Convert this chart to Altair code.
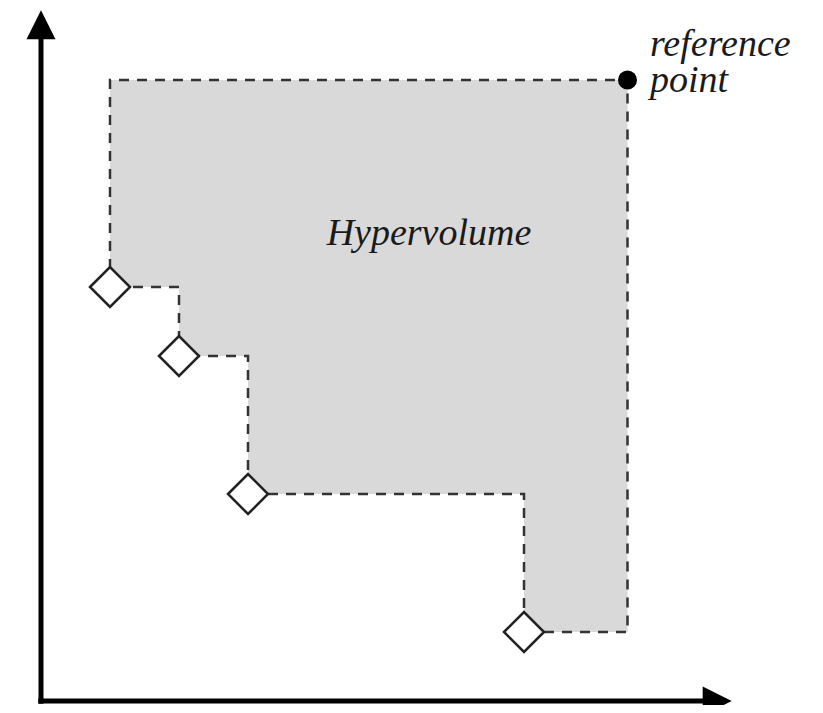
import altair as alt
import pandas as pd

# Pareto front points (objective values) and the reference point
front_x = [1, 2, 3, 7]
front_y = [6, 5, 3, 1]
ref_x = 8.5
ref_y = 9.0

# axis extents (data units)
axis_start = -0.04
arrow_pos = 9.8

label_hv = "Hypervolume"
label_ref = "reference\npoint"

# scales: unit ~69px, origin at page (41, 701)
X_DOM = [-33 / 69, 774 / 69]
Y_DOM = [-4 / 69, 693 / 69]
xs = alt.Scale(domain=X_DOM, nice=False, zero=False)
ys = alt.Scale(domain=Y_DOM, nice=False, zero=False)


def X(f="x"):
    return alt.X(f"{f}:Q", scale=xs, axis=None)


def Y(f="y"):
    return alt.Y(f"{f}:Q", scale=ys, axis=None)


# dominated region: step area from front up to ref_y
area_df = pd.DataFrame({
    "x": front_x + [ref_x],
    "y": front_y + [front_y[-1]],
    "top": [ref_y] * (len(front_x) + 1),
})
area = alt.Chart(area_df).mark_area(
    interpolate="step-after", color="#d9d9d9", opacity=1
).encode(x=X(), y=Y(), y2=alt.Y2("top:Q"))

# dashed outline of the region
path_x = [front_x[0], front_x[0], ref_x, ref_x]
path_y = [front_y[0], ref_y, ref_y, front_y[-1]]
for i in range(len(front_x) - 1, 0, -1):
    path_x += [front_x[i], front_x[i], front_x[i - 1]]
    path_y += [front_y[i], front_y[i - 1], front_y[i - 1]]
path_x += [front_x[0]]
path_y += [front_y[0]]
line_df = pd.DataFrame({"x": path_x, "y": path_y, "i": list(range(len(path_x)))})
outline = alt.Chart(line_df).mark_line(
    color="#333333", strokeWidth=2.5, strokeDash=[10, 8], strokeCap="butt"
).encode(x=X(), y=Y(), order="i:Q")

# axes
axes_df = pd.DataFrame({
    "x": [0, axis_start], "y": [axis_start, 0],
    "x2": [0, arrow_pos], "y2": [arrow_pos, 0],
})
axes = alt.Chart(axes_df).mark_rule(color="black", strokeWidth=5, strokeCap="butt").encode(
    x=X(), y=Y(), x2=alt.X2("x2:Q"), y2=alt.Y2("y2:Q")
)
up_df = pd.DataFrame({"x": [0], "y": [arrow_pos]})
up = alt.Chart(up_df).mark_point(
    shape="M0,-1L-1,1L1,1Z", filled=True, color="black", opacity=1, size=841
).encode(x=X(), y=Y())
right_df = pd.DataFrame({"x": [arrow_pos], "y": [0]})
right = alt.Chart(right_df).mark_point(
    shape="M1,0L-1,-1L-1,1Z", filled=True, color="black", opacity=1, size=841
).encode(x=X(), y=Y())

# front points (diamonds)
pts_df = pd.DataFrame({"x": front_x, "y": front_y})
pts = alt.Chart(pts_df).mark_point(
    shape="diamond", size=1600, fill="white", stroke="#222222", strokeWidth=2.5, opacity=1, fillOpacity=1
).encode(x=X(), y=Y())

# reference point
ref_df = pd.DataFrame({"x": [ref_x], "y": [ref_y]})
refp = alt.Chart(ref_df).mark_point(
    shape="circle", size=361, filled=True, color="black", opacity=1
).encode(x=X(), y=Y())

# labels
hv_df = pd.DataFrame({"x": [5.623], "y": [6.609], "t": [label_hv]})
hv_txt = alt.Chart(hv_df).mark_text(
    font="Liberation Serif", fontStyle="italic", fontSize=38, color="#1a1a1a",
    align="center", baseline="alphabetic"
).encode(x=X(), y=Y(), text="t:N")
rt_df = pd.DataFrame({"x": [8.826], "y": [9.348], "t": [label_ref]})
ref_txt = alt.Chart(rt_df).mark_text(
    font="Liberation Serif", fontStyle="italic", fontSize=38, color="#1a1a1a",
    align="left", baseline="alphabetic", lineBreak="\n", lineHeight=36
).encode(x=X(), y=Y(), text="t:N")

chart = alt.layer(area, outline, axes, up, right, pts, refp, hv_txt, ref_txt).properties(
    width=807, height=697, padding=0, autosize=alt.AutoSizeParams(type="none"),
    background="white"
).configure_view(stroke=None)

chart.save("out.html", embed_options={"renderer": "svg", "actions": False})
